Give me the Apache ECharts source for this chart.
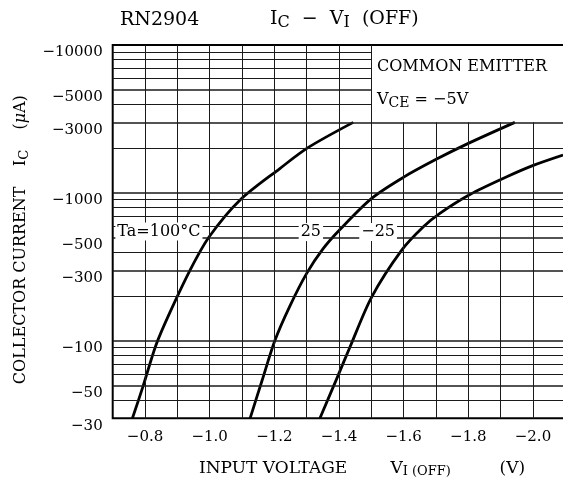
<!DOCTYPE html>
<html><head><meta charset="utf-8">
<script src="https://cdn.jsdelivr.net/npm/echarts@6/dist/echarts.min.js"></script>
<style>html,body{margin:0;padding:0;background:#fff}#c{width:563px;height:483px}</style>
</head><body><div id="c"></div>
<script>
// ---- data (V in volts, I_C in microamps, both negative as on the chart) ----
const vTa100 = [-0.761, -0.794, -0.834, -0.877, -0.941, -0.998, -1.094, -1.218, -1.304, -1.444];
const iTa100 = [-30, -49.5, -94, -156, -306, -504, -896, -1468, -2024, -3000];
const vTa25 = [-1.125, -1.162, -1.202, -1.248, -1.300, -1.351, -1.403, -1.501, -1.599, -1.702, -1.800, -1.944];
const iTa25 = [-30, -54, -101, -172, -286, -420, -566, -919, -1275, -1694, -2163, -3000];
const vTaM25 = [-1.341, -1.398, -1.434, -1.501, -1.594, -1.661, -1.712, -1.805, -1.919, -2.001, -2.093];
const iTaM25 = [-30, -59, -91, -198, -411, -591, -728, -976, -1286, -1535, -1803];

const annotText = ['Ta=100°C', '25', '−25'];
const annotV = [-0.843, -1.313, -1.521];
const annotI = [-550, -544, -544];

const xGridValues = [-0.8, -0.9, -1.0, -1.1, -1.2, -1.3, -1.4, -1.5, -1.6, -1.7, -1.8, -1.9, -2.0, -2.1];
const yGridValues = [-40, -50, -60, -70, -80, -90, -100, -200, -300, -400, -500, -600, -700, -800, -900,
  -1000, -2000, -3000, -4000, -5000, -6000, -7000, -8000, -9000];
const yTickLabels = [-30, -50, -100, -300, -500, -1000, -3000, -5000, -10000];
const xMin = -2.1, xMax = -0.7, yMinMag = 30, yMaxMag = 10000;
const boxV = -1.5, boxI = -3000;   // corner of the "COMMON EMITTER" box

// ---- helpers ----
const FONT = 'DejaVu Serif';
const mag = v => Math.abs(v);
const minusStr = v => '−' + Math.abs(v);
const pts = (vs, is) => vs.map((v, k) => [v, mag(is[k])]);

const gridLines = [];
xGridValues.forEach(x => {
  const top = (x < boxV - 1e-9) ? mag(boxI) : yMaxMag;
  gridLines.push([{ coord: [x, yMinMag] }, { coord: [x, top] }]);
});
yGridValues.forEach(y => {
  const right = (mag(y) > mag(boxI)) ? boxV : xMin;
  const labeled = yTickLabels.indexOf(y) >= 0;
  gridLines.push([{
    coord: [xMax, mag(y)], name: labeled ? minusStr(y) : '',
    lineStyle: { width: labeled ? 1.6 : 1 },
    label: { show: labeled }
  }, { coord: [right, mag(y)] }]);
});
// labels at the borders (30 and 10000)
yTickLabels.filter(y => yGridValues.indexOf(y) < 0).forEach(y => {
  gridLines.push([{ coord: [xMax, mag(y)], name: minusStr(y), lineStyle: { color: 'rgba(0,0,0,0)', width: 0.1 }, label: { show: true } },
                  { coord: [boxV, mag(y)] }]);
});

const curveStyle = { color: '#000', width: 2.8 };
const mkCurve = (name, vs, is) => ({
  type: 'line', name, data: pts(vs, is), smooth: 0.3, showSymbol: false, symbol: 'none',
  lineStyle: curveStyle, z: 4, silent: true, animation: false, clip: true
});

const chart = echarts.init(document.getElementById('c'), null, { renderer: 'canvas' });
chart.setOption({
  backgroundColor: '#fff',
  animation: false,
  grid: { left: 112.7, top: 45, width: 452.6, height: 373.3, containLabel: false, outerBoundsMode: 'none',
          show: true, borderColor: '#000', borderWidth: 2, backgroundColor: 'transparent' },
  xAxis: {
    type: 'value', min: xMin, max: xMax, interval: 0.1, inverse: true,
    axisLine: { show: false }, axisTick: { show: false }, splitLine: { show: false },
    axisLabel: {
      margin: 11, color: '#000', fontFamily: FONT, fontSize: 15,
      formatter: v => (Math.round(v * 10) % 2 === 0 && v <= -0.75 && v >= -2.05) ? '−' + Math.abs(v).toFixed(1) : ''
    },
    name: '{a|INPUT VOLTAGE        V}{s|I (OFF)}{a|         (V)}',
    nameLocation: 'middle', nameGap: 40,
    nameTextStyle: {
      padding: [0, 0, 0, 46],
      rich: {
        a: { fontFamily: FONT, fontSize: 17, color: '#000', lineHeight: 20 },
        s: { fontFamily: FONT, fontSize: 13, color: '#000', lineHeight: 13, verticalAlign: 'bottom' }
      }
    }
  },
  yAxis: {
    type: 'log', logBase: 10, min: yMinMag, max: yMaxMag,
    axisLine: { show: false }, axisTick: { show: false }, splitLine: { show: false },
    minorTick: { show: false }, minorSplitLine: { show: false },
    axisLabel: { show: false },
    name: '{a|COLLECTOR CURRENT    I}{s|C}{a|    (}{i|μ}{a|A)}',
    nameLocation: 'middle', nameGap: 82, nameRotate: 90,
    nameTextStyle: {
      padding: [0, 16, 0, 0],
      rich: {
        a: { fontFamily: FONT, fontSize: 16, color: '#000', lineHeight: 20 },
        i: { fontFamily: FONT, fontSize: 16, color: '#000', lineHeight: 20, fontStyle: 'italic' },
        s: { fontFamily: FONT, fontSize: 13, color: '#000', lineHeight: 13, verticalAlign: 'bottom' }
      }
    }
  },
  graphic: [
    { type: 'text', left: 120, top: 11, z: 10, style: { text: 'RN2904', font: '19px "DejaVu Serif"', fill: '#000' } },
    { type: 'text', left: 270, top: 10, z: 10, style: {
        text: '{a|I}{s|C}{a|  −  V}{s|I}{a|  (OFF)}',
        rich: {
          a: { fontFamily: FONT, fontSize: 19, fill: '#000', lineHeight: 22 },
          s: { fontFamily: FONT, fontSize: 16, fill: '#000', lineHeight: 16, verticalAlign: 'bottom' }
        } } },
    { type: 'text', left: 377, top: 59, z: 10, style: { text: 'COMMON EMITTER', font: '16px "DejaVu Serif"', fill: '#000' } },
    { type: 'text', left: 377, top: 92, z: 10, style: {
        text: '{a|V}{s|CE}{a| = −5V}',
        rich: {
          a: { fontFamily: FONT, fontSize: 16, fill: '#000', lineHeight: 20 },
          s: { fontFamily: FONT, fontSize: 14, fill: '#000', lineHeight: 14, verticalAlign: 'bottom' }
        } } }
  ],
  series: [
    {
      type: 'line', name: 'grid', data: [], z: 1, silent: true, animation: false,
      markLine: {
        silent: true, animation: false, symbol: ['none', 'none'],
        lineStyle: { color: '#1a1a1a', width: 1, type: 'solid' },
        label: { show: false, position: 'start', distance: 10, formatter: p => p.name, verticalAlign: 'top',
                 color: '#000', fontFamily: FONT, fontSize: 15 },
        emphasis: { disabled: true },
        data: gridLines
      }
    },
    {
      type: 'line', name: 'annot', data: [], z: 3, silent: true, animation: false,
      markPoint: {
        silent: true, animation: false, symbol: 'circle', symbolSize: 1,
        itemStyle: { color: 'rgba(0,0,0,0)' },
        label: { show: true, position: 'inside', formatter: p => p.name, color: '#000',
                 fontFamily: FONT, fontSize: 16, backgroundColor: '#fff', padding: [1, 2, 1, 2] },
        data: annotText.map((t, k) => ({ name: t, coord: [annotV[k], mag(annotI[k])] }))
      }
    },
    mkCurve('Ta=100°C', vTa100, iTa100),
    mkCurve('25', vTa25, iTa25),
    mkCurve('−25', vTaM25, iTaM25)
  ]
});
</script>
</body></html>
